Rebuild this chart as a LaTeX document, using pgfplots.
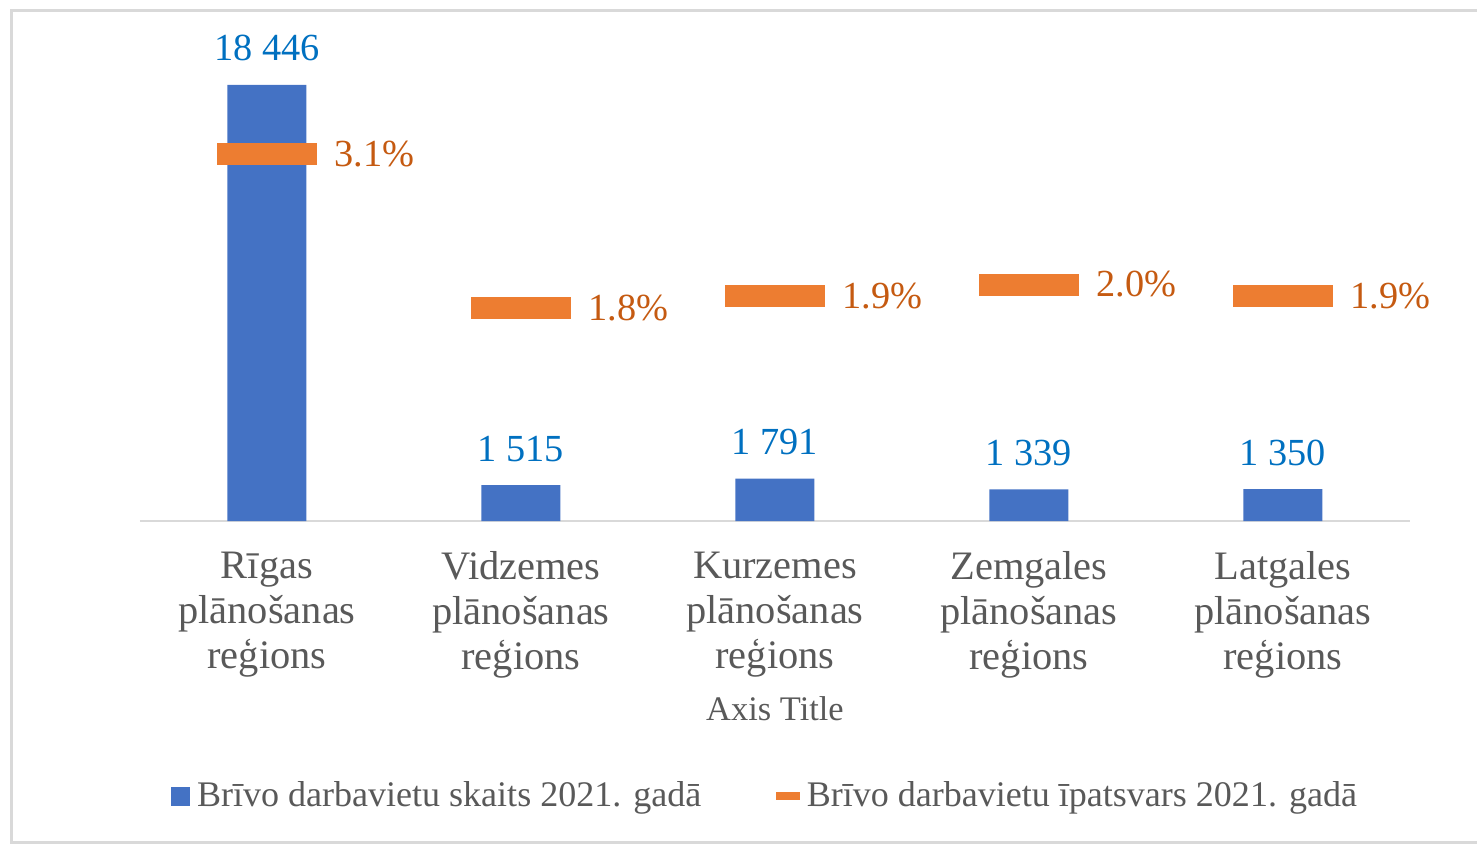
\documentclass[border=0pt]{standalone}
\usepackage{pgfplots}
\pgfplotsset{compat=1.18}
\usepackage{fontspec}
\setmainfont{Liberation Serif}
\definecolor{barblue}{HTML}{4472C4}
\definecolor{lblblue}{HTML}{0070C0}
\definecolor{mkorange}{HTML}{ED7D31}
\definecolor{lblorange}{HTML}{C55A11}
\definecolor{txtgray}{HTML}{595959}
\definecolor{axgray}{HTML}{D9D9D9}
\definecolor{framegray}{HTML}{D9D9D9}
\pgfdeclareplotmark{dashbox}{\pgfpathrectangle{\pgfpoint{-5mm}{-1.1mm}}{\pgfpoint{10mm}{2.2mm}}\pgfusepathqfill}
\begin{document}
\begin{tikzpicture}
\useasboundingbox (-14mm,-32.4mm) rectangle (133.7mm,52.1mm);
\draw[framegray, line width=0.3mm] (-12.8mm,-32.1mm) rectangle (137mm,51.1mm);
\begin{axis}[
  at={(0,0)}, anchor=south west,
  scale only axis, width=127mm, height=47.3mm,
  xmin=-0.5, xmax=4.5, ymin=0, ymax=20000,
  axis y line=none,
  axis x line*=bottom,
  x axis line style={draw=axgray, line width=0.7pt},
  major tick length=0,
  xtick={0,1,2,3,4},
  xticklabels={{Rīgas\\plānošanas\\reģions},{Vidzemes\\plānošanas\\reģions},{Kurzemes\\plānošanas\\reģions},{Zemgales\\plānošanas\\reģions},{Latgales\\plānošanas\\reģions}},
  xticklabel style={align=center, anchor=north, inner sep=0pt, yshift=-3.0mm, text=txtgray, font=\fontsize{11.5}{12.8}\selectfont},
  xlabel={Axis Title},
  xlabel style={at={(axis description cs:0.5,-0.397)}, anchor=center, text=txtgray, font=\fontsize{9.8}{12}\selectfont},
  ybar, bar width=7.9mm,
]
\addplot[fill=barblue, draw=none, point meta=explicit symbolic, nodes near coords,
  nodes near coords style={font=\fontsize{10.9}{13}\selectfont, text=lblblue, anchor=south, yshift=3.2pt}]
  coordinates {(0,18446)[18 446] (1,1515)[1 515] (2,1791)[1 791] (3,1339)[1 339] (4,1350)[1 350]};
\end{axis}
\begin{axis}[
  at={(0,0)}, anchor=south west,
  scale only axis, width=127mm, height=47.3mm,
  xmin=-0.5, xmax=4.5, ymin=0, ymax=4,
  hide axis,
  legend columns=2,
  legend style={at={(0.494,-0.582)}, anchor=center, draw=none, fill=none, text=txtgray,
    font=\fontsize{10.25}{12}\selectfont,
    /tikz/every even column/.append style={column sep=6.8mm}},
]
\addlegendimage{legend image code/.code={\fill[barblue] (0,-0.9mm) rectangle (1.8mm,0.9mm);}}
\addlegendentry{Brīvo darbavietu skaits 2021. gadā}
\addplot[only marks, mark=dashbox, color=mkorange, point meta=explicit symbolic, nodes near coords,
  nodes near coords style={anchor=west, inner sep=0pt, xshift=6.7mm, text=lblorange, font=\fontsize{10.9}{13}\selectfont},
  legend image code/.code={\fill[mkorange] (0,-0.35mm) rectangle (2.2mm,0.35mm);}]
  coordinates {(0,3.1)[3.1\%] (1,1.8)[1.8\%] (2,1.9)[1.9\%] (3,2.0)[2.0\%] (4,1.9)[1.9\%]};
\addlegendentry{Brīvo darbavietu īpatsvars 2021. gadā}
\end{axis}
\end{tikzpicture}
\end{document}
